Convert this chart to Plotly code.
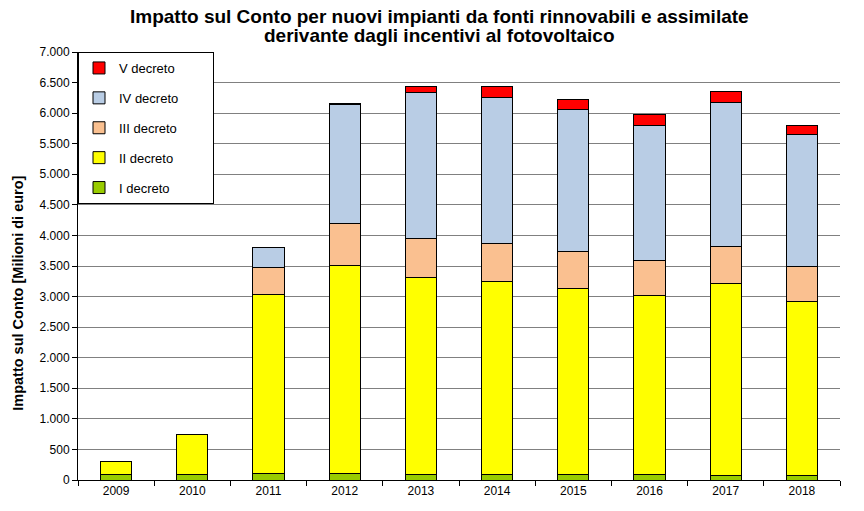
import plotly.graph_objects as go

# years and contributions (milioni di euro)
anni = ["2009", "2010", "2011", "2012", "2013", "2014", "2015", "2016", "2017", "2018"]
decreto_1 = [87, 90, 112, 110, 93, 93, 93, 93, 78, 78]
decreto_2 = [218, 657, 2925, 3395, 3222, 3157, 3042, 2922, 3133, 2845]
decreto_3 = [None, None, 441, 693, 638, 621, 605, 578, 611, 572]
decreto_4 = [None, None, 322, 1947, 2382, 2382, 2323, 2208, 2355, 2159]
decreto_5 = [None, None, None, 15, 109, 186, 164, 185, 180, 147]

titolo = ["Impatto sul Conto per nuovi impianti da fonti rinnovabili e assimilate",
          "derivante dagli incentivi al fotovoltaico"]
titolo_y = "Impatto sul Conto [Milioni di euro]"

serie = [
    ("I decreto", decreto_1, "#99cc00"),
    ("II decreto", decreto_2, "#ffff00"),
    ("III decreto", decreto_3, "#fac090"),
    ("IV decreto", decreto_4, "#b9cde5"),
    ("V decreto", decreto_5, "#ff0000"),
]

fig = go.Figure()
for i, (nome, valori, colore) in enumerate(serie):
    fig.add_trace(go.Bar(
        x=anni, y=valori,
        name=nome + "\u00a0" * 8,  # trailing spaces widen the legend box
        hovertemplate=nome + ": %{y}<extra></extra>",
        legendgroup=str(i), legendrank=10 - i,
        marker=dict(color=colore, line=dict(color="black", width=1)),
    ))

# page body has an 8px margin, so the figure is a bit smaller than the window
font = "Arial, Liberation Sans, sans-serif"

# title lines and y-axis label as annotations (tighter line spacing than layout.title)
note = [
    dict(text="<b>" + titolo[0] + "</b>", x=0.475, y=1.083, font=dict(family=font, size=19)),
    dict(text="<b>" + titolo[1] + "</b>", x=0.475, y=1.039, font=dict(family=font, size=19)),
    dict(text="<b>" + titolo_y + "</b>", x=-0.079, y=0.437, textangle=-90,
         font=dict(family=font, size=14.5)),
]
for n in note:
    n.update(xref="paper", yref="paper", xanchor="center", yanchor="middle", showarrow=False)

fig.update_layout(
    barmode="stack",
    bargap=0.59,
    width=856, height=503,
    margin=dict(l=70, r=24, t=44, b=31),
    paper_bgcolor="white", plot_bgcolor="white",
    separators=",.",
    font=dict(family=font, size=12, color="black"),
    legend=dict(
        x=0, y=1, xanchor="left", yanchor="top",
        traceorder="grouped", tracegroupgap=10,
        bgcolor="white", bordercolor="black", borderwidth=1,
        font=dict(family=font, size=13),
    ),
    yaxis=dict(
        range=[0, 7000], dtick=500, tickformat=",d",
        showgrid=True, gridcolor="#808080", gridwidth=1,
        showline=True, linecolor="black", linewidth=1,
        ticks="outside", ticklen=5, tickcolor="black",
    ),
    xaxis=dict(
        showline=True, linecolor="black", linewidth=1,
        ticks="outside", ticklen=5, tickcolor="black", tickson="boundaries",
        showgrid=False,
    ),
    annotations=note,
)

fig.write_html("out.html")
